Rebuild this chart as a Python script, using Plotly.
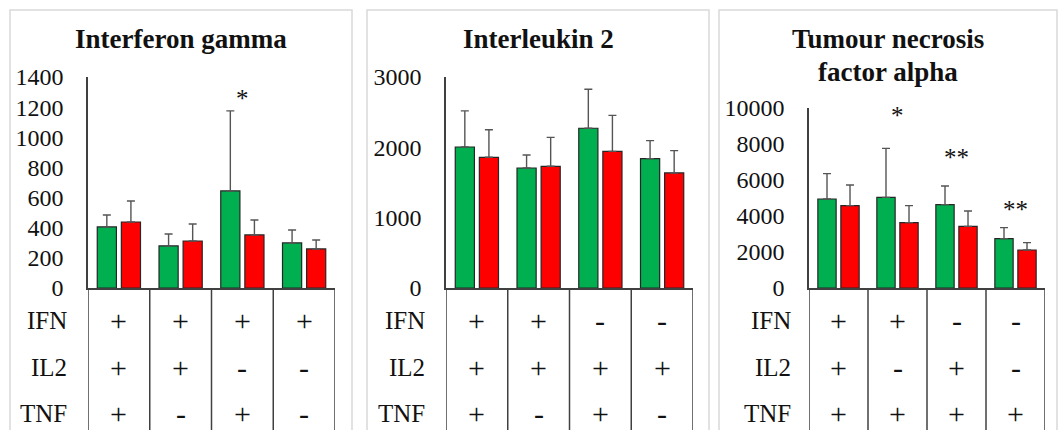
import plotly.graph_objects as go

W, H = 1062, 430

groups = [0, 1, 2, 3]
titles = ["Interferon gamma", "Interleukin 2", "Tumour necrosis<br>factor alpha"]
row_labels = ["IFN", "IL2", "TNF"]

# Interferon gamma
ifn_green = [405, 279, 644, 299]
ifn_green_err = [79, 79, 531, 86]
ifn_red = [438, 312, 352, 259]
ifn_red_err = [139, 113, 99, 59]
ifn_signs = [["+", "+", "+", "+"], ["+", "+", "-", "-"], ["+", "-", "+", "-"]]
ifn_stars = ["", "", "*", ""]
ifn_star_y = [0, 0, 1260, 0]
ifn_range = [0, 1400]
ifn_dtick = 200

# Interleukin 2
il2_green = [2005, 1706, 2271, 1839]
il2_green_err = [513, 185, 554, 256]
il2_red = [1858, 1730, 1943, 1636]
il2_red_err = [393, 412, 512, 317]
il2_signs = [["+", "+", "-", "-"], ["+", "+", "+", "+"], ["+", "-", "+", "-"]]
il2_stars = ["", "", "", ""]
il2_star_y = [0, 0, 0, 0]
il2_range = [0, 3000]
il2_dtick = 1000

# Tumour necrosis factor alpha
tnf_green = [4944, 5037, 4630, 2741]
tnf_green_err = [1408, 2722, 1037, 611]
tnf_red = [4574, 3630, 3426, 2111]
tnf_red_err = [1148, 944, 852, 408]
tnf_signs = [["+", "+", "-", "-"], ["+", "-", "+", "-"], ["+", "+", "+", "+"]]
tnf_stars = ["", "*", "**", "**"]
tnf_star_y = [0, 9600, 7250, 4350]
tnf_range = [0, 10000]
tnf_dtick = 2000

GREEN = "#00B050"
RED = "#FF0000"
FONT = "Liberation Serif"
TXT = "#111111"


def px(x):
    return x / W


def py(y):
    return 1 - y / H


# layout geometry (pixels): frame x0,x1 ; plot x0,x1 ; plot y top ; label right edge
panels = [
    dict(frame=(10, 352), plot=(88, 335), top=77, lab=69, title_y=[39]),
    dict(frame=(367, 709), plot=(446, 693), top=77, lab=427, title_y=[39]),
    dict(frame=(719, 1057), plot=(809, 1045), top=108, lab=793, title_y=[39, 72]),
]
zero_y = 288
row_y = [320, 367, 413]

data_sets = [
    (ifn_green, ifn_green_err, ifn_red, ifn_red_err, ifn_signs, ifn_stars, ifn_star_y, ifn_range, ifn_dtick),
    (il2_green, il2_green_err, il2_red, il2_red_err, il2_signs, il2_stars, il2_star_y, il2_range, il2_dtick),
    (tnf_green, tnf_green_err, tnf_red, tnf_red_err, tnf_signs, tnf_stars, tnf_star_y, tnf_range, tnf_dtick),
]

fig = go.Figure()
shapes = []
annotations = []
layout = {}

for i, (p, ds) in enumerate(zip(panels, data_sets)):
    g, ge, r, re_, signs, stars, star_y, yr, dt = ds
    n = "" if i == 0 else str(i + 1)
    xa, ya = "x" + n, "y" + n
    for vals, errs, col, off in [(g, ge, GREEN, -0.35), (r, re_, RED, 0.04)]:
        fig.add_trace(go.Bar(
            x=groups, y=vals, xaxis=xa, yaxis=ya,
            width=0.31, offset=off,
            marker=dict(color=col, line=dict(color="#262626", width=1.2)),
            error_y=dict(type="data", array=errs, arrayminus=[0] * len(errs), symmetric=False,
                         color="#555555", thickness=1.4, width=4),
            showlegend=False, hoverinfo="skip",
        ))
    layout["xaxis" + n] = dict(
        domain=[px(p["plot"][0]), px(p["plot"][1])], anchor=ya,
        range=[-0.5, len(groups) - 0.5], showticklabels=False, ticks="",
        showgrid=False, zeroline=False, showline=True, linecolor="#404040", linewidth=1.5,
        fixedrange=True,
    )
    layout["yaxis" + n] = dict(
        domain=[py(zero_y), py(p["top"])], anchor=xa,
        range=yr, dtick=dt, tick0=0, tickformat="d", showgrid=False, zeroline=False,
        showline=True, linecolor="#404040", linewidth=1.5, ticks="",
        ticklabelstandoff=18,
        tickfont=dict(family=FONT, size=24, color=TXT), fixedrange=True,
    )
    # frame
    shapes.append(dict(type="rect", xref="paper", yref="paper",
                       x0=px(p["frame"][0]), x1=px(p["frame"][1]), y0=-0.05, y1=py(10),
                       line=dict(color="#D9D9D9", width=1.5), fillcolor="rgba(0,0,0,0)", layer="below"))
    # table vertical lines at category boundaries
    for k in range(len(groups) + 1):
        shapes.append(dict(type="line", xref=xa, yref="paper",
                           x0=k - 0.5, x1=k - 0.5, y0=-0.02, y1=py(zero_y),
                           line=dict(color="#404040", width=1.5)))
    # title
    tl = titles[i].split("<br>")
    for t, ty in zip(tl, p["title_y"]):
        annotations.append(dict(text="<b>" + t + "</b>", xref="paper", yref="paper",
                                x=px((p["frame"][0] + p["frame"][1]) / 2), y=py(ty),
                                xanchor="center", yanchor="middle", showarrow=False,
                                font=dict(family=FONT, size=27, color=TXT)))
    # row labels and signs
    for j, lab in enumerate(row_labels):
        annotations.append(dict(text=lab, xref="paper", yref="paper",
                                x=px(p["lab"]), y=py(row_y[j]), xanchor="right", yanchor="middle",
                                showarrow=False, font=dict(family=FONT, size=25, color=TXT)))
        for k, s in enumerate(signs[j]):
            annotations.append(dict(text=s, xref=xa, yref="paper",
                                    x=groups[k], y=py(row_y[j]), xanchor="center", yanchor="middle",
                                    showarrow=False, font=dict(family=FONT, size=30, color=TXT)))
    # significance stars
    for k, s in enumerate(stars):
        if s:
            annotations.append(dict(text=s, xref=xa, yref=ya, x=groups[k], y=star_y[k],
                                    xanchor="center", yanchor="middle", showarrow=False,
                                    font=dict(family=FONT, size=25, color=TXT)))

fig.update_layout(
    width=W, height=H, margin=dict(l=0, r=0, t=0, b=0, autoexpand=False),
    paper_bgcolor="white", plot_bgcolor="rgba(0,0,0,0)",
    shapes=shapes, annotations=annotations, **layout,
)
fig.write_html("out.html")
